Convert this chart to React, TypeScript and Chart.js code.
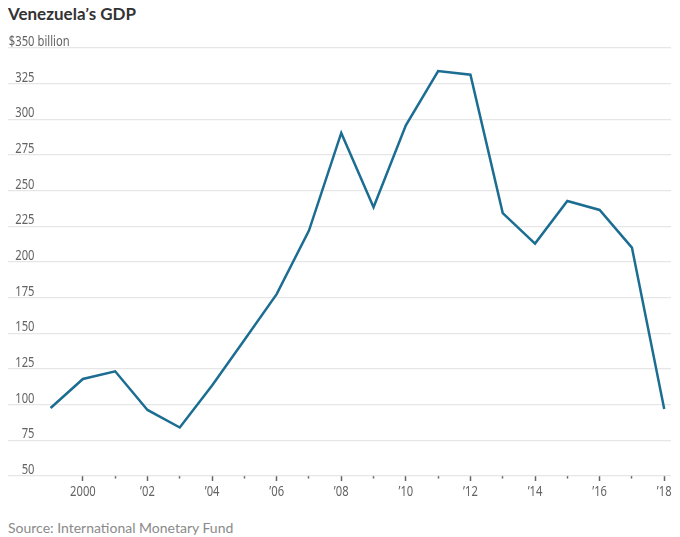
import React, { useEffect, useRef } from "react";
import { Chart, registerables } from "chart.js";

Chart.register(...registerables);

const years: number[] = [1999, 2000, 2001, 2002, 2003, 2004, 2005, 2006, 2007, 2008, 2009, 2010, 2011, 2012, 2013, 2014, 2015, 2016, 2017, 2018];
const gdp: number[] = [97.7, 118, 123.4, 96.3, 84, 113.5, 145.3, 177.5, 222, 290.5, 238.4, 295.8, 333.8, 331.3, 234.3, 212.9, 242.8, 236.5, 210.1, 97];
const yTicks: number[] = [50, 75, 100, 125, 150, 175, 200, 225, 250, 275, 300, 325, 350];
const xTickYears: number[] = [2000, 2001, 2002, 2003, 2004, 2005, 2006, 2007, 2008, 2009, 2010, 2011, 2012, 2013, 2014, 2015, 2016, 2017, 2018];

const TITLE = "Venezuela’s GDP";
const SOURCE = "Source: International Monetary Fund";
const UNIT = "billion";
const CURRENCY = "$";

const LABEL_FONT = "14px 'Noto Sans', sans-serif";
const SQUEEZE = 0.8;

function xLabel(v: number): string {
  if (v % 2 !== 0) return "";
  return v === 2000 ? String(v) : "’" + String(v).slice(2);
}

function drawSqueezed(ctx: any, text: string, x: number, y: number, align: string) {
  ctx.save();
  ctx.translate(x, y);
  ctx.scale(SQUEEZE, 1);
  ctx.textAlign = align;
  ctx.fillText(text, 0, 0);
  ctx.restore();
}

const axisLabelPlugin = {
  id: "axisLabelPlugin",
  afterDraw(chart: any) {
    const { ctx, chartArea } = chart;
    const ys = chart.scales.y;
    const xs = chart.scales.x;
    ctx.save();
    ctx.font = LABEL_FONT;
    ctx.fillStyle = "#636363";
    ctx.textBaseline = "alphabetic";
    const xr = chartArea.left + 27.5;
    ys.ticks.forEach((t: any, i: number) => {
      const y = ys.getPixelForValue(t.value) - 2;
      const isTop = i === ys.ticks.length - 1;
      drawSqueezed(ctx, isTop ? CURRENCY + t.value : String(t.value), xr, y, "right");
      if (isTop) drawSqueezed(ctx, UNIT, xr + 3, y, "left");
    });
    xs.ticks.forEach((t: any) => {
      const label = xLabel(t.value);
      if (!label) return;
      const x = xs.getPixelForValue(t.value);
      drawSqueezed(ctx, label, x, chartArea.bottom + 20, "center");
    });
    ctx.restore();
  },
};

export default function App() {
  const ref = useRef<HTMLCanvasElement | null>(null);

  useEffect(() => {
    if (!ref.current) return;
    const chart = new Chart(ref.current, {
      type: "line",
      data: {
        datasets: [
          {
            data: years.map((yr, i) => ({ x: yr, y: gdp[i] })),
            borderColor: "#1c6d92",
            borderWidth: 2.5,
            pointRadius: 0,
            tension: 0,
            fill: false,
          },
        ],
      },
      options: {
        animation: false,
        responsive: true,
        maintainAspectRatio: false,
        layout: { padding: { top: 14, right: 1, left: 0, bottom: 0 } },
        plugins: {
          legend: { display: false },
          tooltip: { enabled: false },
          title: { display: false },
        },
        scales: {
          x: {
            type: "linear",
            min: 1997.65,
            max: 2018.21,
            afterBuildTicks: (scale: any) => {
              scale.ticks = xTickYears.map((v) => ({ value: v }));
            },
            afterFit: (scale: any) => {
              scale.height = 24;
            },
            border: { display: false },
            grid: {
              drawOnChartArea: false,
              drawTicks: true,
              tickLength: 5,
              tickColor: "#666666",
              tickWidth: 1.5,
              tickBorderDash: (ctx: any) => (ctx.tick && ctx.tick.value % 2 !== 0 ? [2.5, 30] : []),
            },
            ticks: { display: false, autoSkip: false, maxRotation: 0 },
          },
          y: {
            type: "linear",
            min: 50,
            max: 350,
            afterBuildTicks: (scale: any) => {
              scale.ticks = yTicks.map((v) => ({ value: v }));
            },
            border: { display: false },
            grid: {
              color: "#e6e6e6",
              lineWidth: 1.2,
              drawTicks: false,
            },
            ticks: { display: false },
          },
        },
      },
      plugins: [axisLabelPlugin],
    });
    return () => chart.destroy();
  }, []);

  return (
    <div style={{ width: 664 }}>
      <div
        style={{
          marginTop: -4,
          height: 22,
          fontFamily: "Lato, 'Noto Sans', sans-serif",
          fontWeight: 700,
          fontSize: 17,
          lineHeight: "20px",
          color: "#333333",
          whiteSpace: "nowrap",
        }}
      >
        {TITLE}
      </div>
      <div style={{ position: "relative", marginLeft: -1, marginTop: 8, width: 665, height: 466 }}>
        <canvas ref={ref} />
      </div>
      <div
        style={{
          marginTop: 19,
          fontFamily: "Lato, 'Noto Sans', sans-serif",
          fontSize: 14,
          lineHeight: "17px",
          color: "#8a8a8a",
          whiteSpace: "nowrap",
        }}
      >
        {SOURCE}
      </div>
    </div>
  );
}
